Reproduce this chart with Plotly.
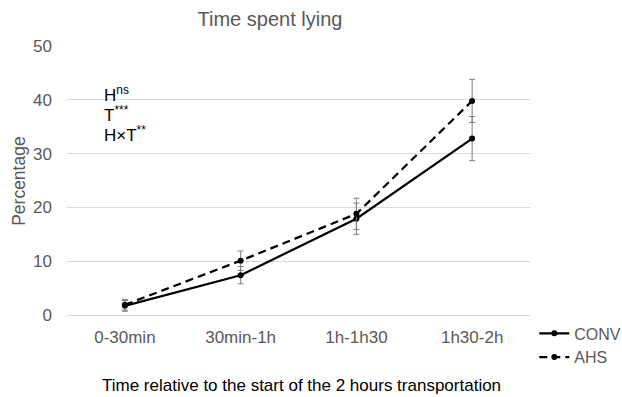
import plotly.graph_objects as go

categories = ["0-30min", "30min-1h", "1h-1h30", "1h30-2h"]
conv = [1.7, 7.4, 17.9, 32.8]
conv_err = [1.0, 1.6, 2.9, 4.1]
ahs = [1.9, 10.1, 18.8, 39.8]
ahs_err = [1.0, 1.8, 2.9, 4.0]
y_ticks = [0, 10, 20, 30, 40, 50]
stats = ["H<sup>ns</sup>", "T<sup>***</sup>", "H×T<sup>**</sup>"]

FONT = "Liberation Sans, Arial, sans-serif"
GREY = "#595959"

fig = go.Figure()
fig.add_trace(go.Scatter(
    x=categories, y=conv, name="CONV", mode="lines+markers",
    line=dict(color="black", width=2.2),
    marker=dict(color="black", size=6),
    error_y=dict(type="data", array=conv_err, color="#7f7f7f", thickness=1, width=3),
))
fig.add_trace(go.Scatter(
    x=categories, y=ahs, name="AHS", mode="lines+markers",
    line=dict(color="black", width=2.2, dash="8px,5px"),
    marker=dict(color="black", size=6),
    error_y=dict(type="data", array=ahs_err, color="#7f7f7f", thickness=1, width=3),
))

fig.update_layout(
    width=622, height=397,
    margin=dict(l=67, r=92, t=46, b=82, autoexpand=False),
    paper_bgcolor="white", plot_bgcolor="white",
    font=dict(family=FONT, size=17, color=GREY),
    title=dict(text="Time spent lying", x=0.434, xanchor="center", xref="container",
               y=0.952, yanchor="middle", yref="container",
               font=dict(size=20, color=GREY, family=FONT)),
    showlegend=True,
    legend=dict(xref="container", yref="container", x=0.859, xanchor="left",
                y=0.203, yanchor="top",
                font=dict(size=16, color=GREY), itemwidth=30,
                bgcolor="rgba(0,0,0,0)", tracegroupgap=0),
    xaxis=dict(type="category", range=[-0.5, 3.5], showgrid=False, zeroline=False,
               showline=False, ticks="", ticklabelstandoff=10,
               tickfont=dict(size=17, color=GREY)),
    yaxis=dict(range=[0, 50], tickvals=y_ticks, showgrid=True, gridcolor="#d9d9d9",
               gridwidth=1, zeroline=True, zerolinecolor="#d9d9d9", zerolinewidth=1,
               showline=False, ticks="", ticklabelstandoff=14,
               tickfont=dict(size=17, color=GREY)),
)

fig.add_annotation(text="Percentage", textangle=-90, xref="paper", yref="paper",
                   x=-0.104, y=(315 - 181) / 269, xanchor="center", yanchor="middle",
                   showarrow=False, font=dict(size=17.5, color=GREY))
fig.add_annotation(text="Time relative to the start of the 2 hours transportation",
                   xref="paper", yref="paper", x=(301 - 67) / 463, y=(315 - 385) / 269,
                   xanchor="center", yanchor="middle", showarrow=False,
                   font=dict(size=17, color="black"))
for i, s in enumerate(stats):
    fig.add_annotation(text=s, xref="paper", yref="paper", x=(102 - 67) / 463,
                       y=(315 - (94 + 19.8 * i)) / 269, xanchor="left", yanchor="middle",
                       showarrow=False, font=dict(size=17, color="black"))

fig.write_html("out.html")
